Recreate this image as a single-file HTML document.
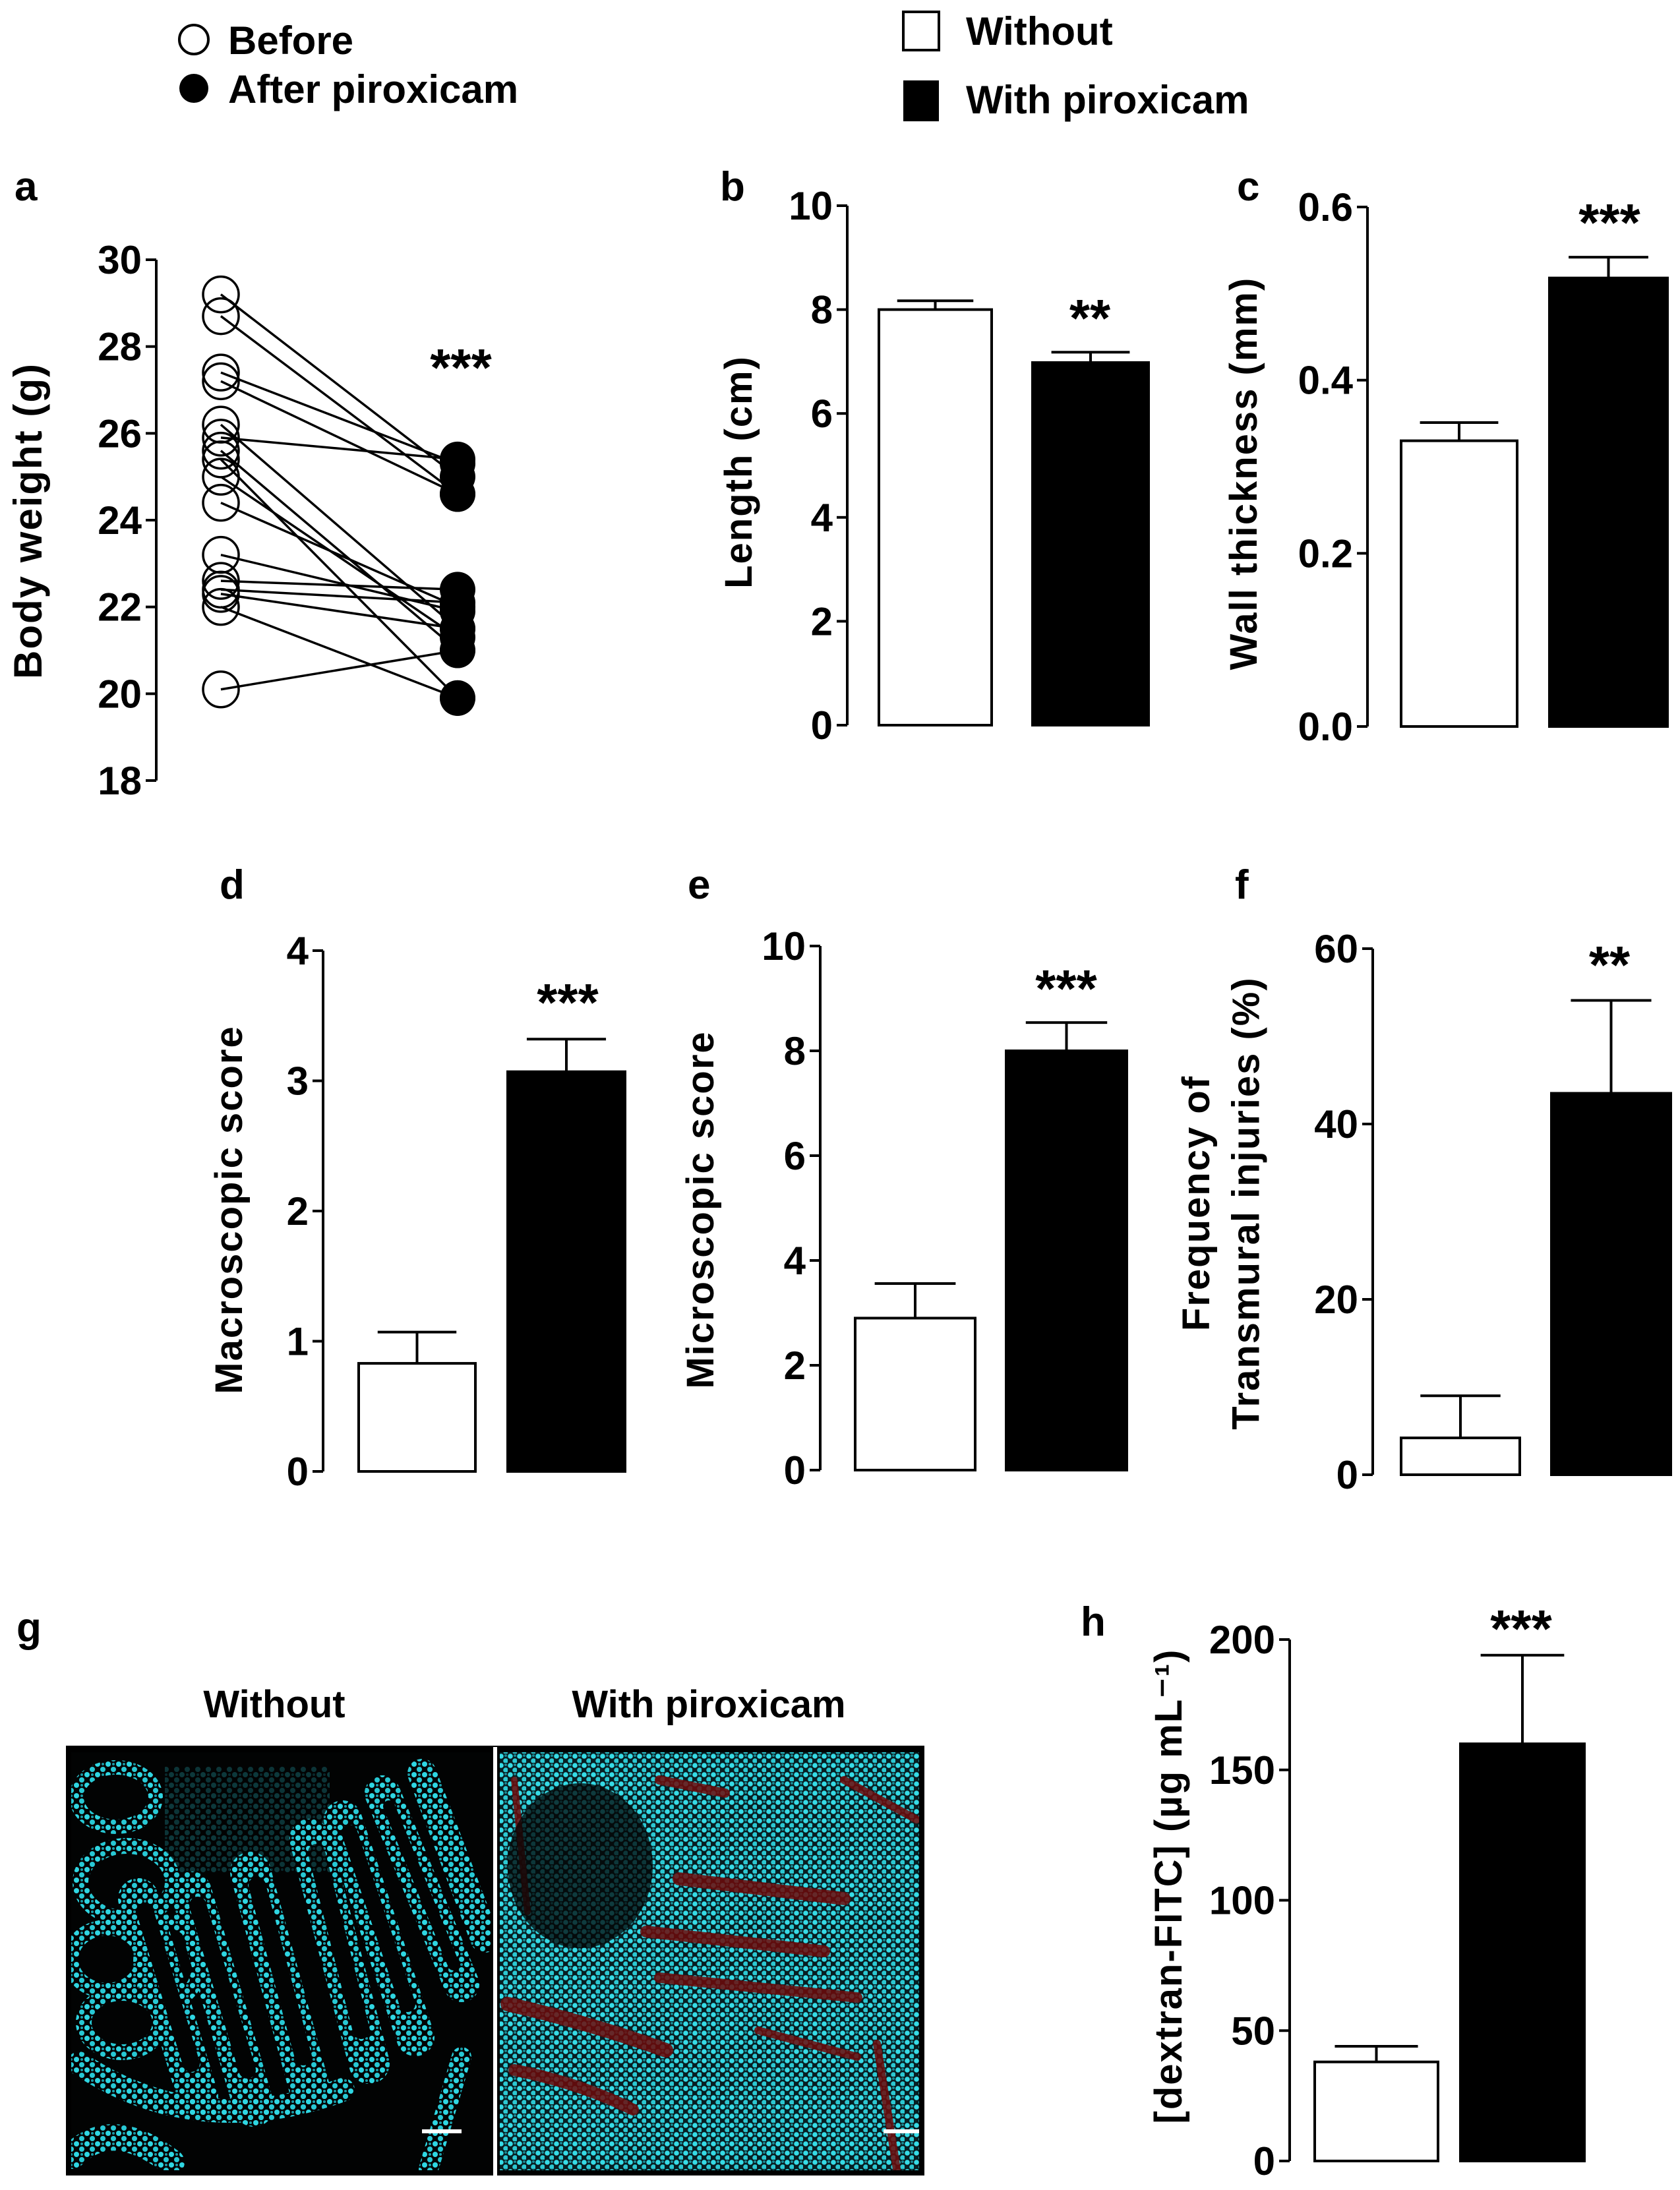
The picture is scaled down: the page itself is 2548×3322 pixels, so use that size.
<!DOCTYPE html>
<html><head><meta charset="utf-8"><style>
html,body{margin:0;padding:0;background:#fff;}
svg{display:block;font-family:"Liberation Sans",Arial,sans-serif;}
</style></head><body>
<svg id="fig" width="2548" height="3322" viewBox="0 0 2548 3322" xmlns="http://www.w3.org/2000/svg">
<defs>
<pattern id="dotsA" width="16" height="16" patternUnits="userSpaceOnUse">
<circle cx="4" cy="4" r="4" fill="#2fd6e2"/><circle cx="12" cy="12" r="4" fill="#28c8d4"/><circle cx="12" cy="4" r="2" fill="#1a9aa6"/>
</pattern>
<pattern id="dotsB" width="14" height="14" patternUnits="userSpaceOnUse">
<rect width="14" height="14" fill="#081e22"/>
<circle cx="4" cy="4" r="3.8" fill="#36dbe6"/><circle cx="11" cy="11" r="3.8" fill="#2cc8d2"/><circle cx="11" cy="3" r="2" fill="#1a8a94"/>
</pattern>
<clipPath id="clipL"><rect x="108" y="2658" width="636" height="634"/></clipPath>
<clipPath id="clipR"><rect x="758" y="2658" width="636" height="634"/></clipPath>
</defs>
<g id="legends" font-weight="bold" font-size="60">
<circle cx="294" cy="60" r="22" fill="#fff" stroke="#000" stroke-width="4"/>
<text x="346" y="82">Before</text>
<circle cx="294" cy="134" r="22" fill="#000"/>
<text x="346" y="156">After piroxicam</text>
<rect x="1370" y="18" width="54" height="58" fill="#fff" stroke="#000" stroke-width="4"/>
<text x="1465" y="68">Without</text>
<rect x="1370" y="122" width="54" height="62" fill="#000"/>
<text x="1465" y="172">With piroxicam</text>
</g>
<g id="charts"></g>
<g id="micro">
<text x="416" y="2605" font-size="58" font-weight="bold" text-anchor="middle">Without</text>
<text x="1075" y="2605" font-size="58" font-weight="bold" text-anchor="middle">With piroxicam</text>
<rect x="100" y="2648" width="1302" height="652" fill="#000"/>
<g clip-path="url(#clipL)">
<rect x="108" y="2658" width="636" height="634" fill="#020303"/>
<g fill="none" stroke="url(#dotsA)" stroke-linecap="round">
<ellipse cx="176" cy="2726" rx="60" ry="45" stroke-width="22"/>
<ellipse cx="192" cy="2855" rx="70" ry="55" stroke-width="24"/>
<ellipse cx="162" cy="2972" rx="55" ry="48" stroke-width="24"/>
<ellipse cx="185" cy="3068" rx="58" ry="45" stroke-width="24"/>
<ellipse cx="258" cy="2975" rx="45" ry="60" stroke-width="22"/>
<path d="M300 3180 L210 2880" stroke-width="62"/>
<path d="M385 3195 L290 2870" stroke-width="62"/>
<path d="M470 3170 L380 2840" stroke-width="62"/>
<path d="M560 3130 L470 2790" stroke-width="62"/>
<path d="M630 3090 L520 2760" stroke-width="58"/>
<path d="M700 3010 L580 2720" stroke-width="54"/>
<path d="M735 2940 L640 2690" stroke-width="44"/>
<path d="M120 3130 Q300 3250 520 3170" stroke-width="36"/>
<path d="M700 3120 L650 3290" stroke-width="30"/>
<path d="M110 3270 Q170 3210 260 3280" stroke-width="40"/>
</g>
<g stroke="#020303" stroke-linecap="round" fill="none">
<path d="M290 3130 L220 2900" stroke-width="26"/>
<path d="M375 3140 L300 2890" stroke-width="26"/>
<path d="M460 3120 L390 2860" stroke-width="26"/>
<path d="M548 3080 L480 2810" stroke-width="26"/>
<path d="M618 3040 L530 2780" stroke-width="24"/>
<path d="M688 2980 L590 2740" stroke-width="18"/>
</g>
<rect x="250" y="2680" width="250" height="160" fill="url(#dotsA)" opacity="0.25"/>
<rect x="640" y="3230" width="60" height="6" fill="#fff"/>
</g>
<g clip-path="url(#clipR)">
<rect x="758" y="2658" width="636" height="634" fill="url(#dotsB)"/>
<g stroke="#6e0a0a" stroke-linecap="round" fill="none" opacity="0.85">
<path d="M1030 2850 L1280 2880" stroke-width="20"/>
<path d="M980 2930 L1250 2960" stroke-width="18"/>
<path d="M1000 3000 L1300 3030" stroke-width="16"/>
<path d="M770 3040 Q900 3070 1010 3110" stroke-width="22"/>
<path d="M780 3140 Q880 3160 960 3200" stroke-width="18"/>
<path d="M1100 2720 L1000 2700" stroke-width="14"/>
<path d="M780 2700 L800 2900" stroke-width="10"/>
<path d="M1330 3100 L1360 3290" stroke-width="12"/>
<path d="M1150 3080 L1300 3120" stroke-width="12"/>
<path d="M1280 2700 L1390 2760" stroke-width="12"/>
</g>
<ellipse cx="880" cy="2830" rx="110" ry="125" fill="#030606" opacity="0.75"/>
<rect x="1340" y="3230" width="55" height="6" fill="#fff"/>
</g>
<rect x="748" y="2650" width="6" height="650" fill="#fff"/>
<text x="25" y="2490" font-size="62" font-weight="bold">g</text>
</g>
</svg>
<script>
// Panel a data (body weight paired)
const aTickLabels = ["18","20","22","24","26","28","30"];
const aTickValues = [18,20,22,24,26,28,30];
const aBefore = [29.2,28.7,27.4,27.2,26.2,25.9,25.6,25.4,25.0,24.4,23.2,22.6,22.4,22.3,22.0,20.1];
const aAfter  = [25.0,24.6,25.3,24.6,21.5,25.4,21.0,19.9,21.3,22.0,21.9,22.4,22.1,21.5,19.9,21.0];
// Panel b
const bValues = [8.0,6.98]; const bErrors = [8.17,7.18];
const bTickValues = [0,2,4,6,8,10]; const bTickLabels = ["0","2","4","6","8","10"];
// Panel c
const cValues = [0.33,0.518]; const cErrors = [0.351,0.542];
const cTickValues = [0,0.2,0.4,0.6]; const cTickLabels = ["0.0","0.2","0.4","0.6"];
// Panel d
const dValues = [0.83,3.07]; const dErrors = [1.07,3.32];
const dTickValues = [0,1,2,3,4]; const dTickLabels = ["0","1","2","3","4"];
// Panel e
const eValues = [2.9,8.0]; const eErrors = [3.56,8.54];
const eTickValues = [0,2,4,6,8,10]; const eTickLabels = ["0","2","4","6","8","10"];
// Panel f
const fValues = [4.2,43.5]; const fErrors = [9.0,54.1];
const fTickValues = [0,20,40,60]; const fTickLabels = ["0","20","40","60"];
// Panel h
const hValues = [38,160]; const hErrors = [44,194];
const hTickValues = [0,50,100,150,200]; const hTickLabels = ["0","50","100","150","200"];

const NS = "http://www.w3.org/2000/svg";
const root = document.getElementById("charts");
function mk(tag, attrs, parent) {
  const e = document.createElementNS(NS, tag);
  for (const k in attrs) e.setAttribute(k, attrs[k]);
  (parent || root).appendChild(e);
  return e;
}
function linScale(d0, d1, r0, r1) { return v => r0 + (v - d0) * (r1 - r0) / (d1 - d0); }

function axis(g, ax, y, tickValues, tickLabels, dMin, dMax) {
  const l = mk("line", {x1: ax, x2: ax, y1: y(dMin), y2: y(dMax), stroke: "#000", "stroke-width": 4}, g);
  
  
  tickValues.forEach((v, i) => {
    const t = mk("line", {x1: ax - 16, x2: ax, y1: y(v), y2: y(v), stroke: "#000", "stroke-width": 4}, g);
    
    
    const tx = mk("text", {x: ax - 22, y: y(v) + 21, "font-size": 60, "font-weight": "bold", "text-anchor": "end"}, g);
    tx.textContent = tickLabels[i];
    
    
  });
}
function ylabel(g, lines, cx, cy, size) {
  const t = mk("text", {transform: `translate(${cx},${cy}) rotate(-90)`, "font-size": size, "font-weight": "bold", "text-anchor": "middle", "letter-spacing": 2}, g);
  
  
  lines.forEach((s, i) => {
    const ts = mk("tspan", {x: 0, dy: i === 0 ? 0 : size * 1.3}, t);
    ts.textContent = s;
  });
  return t;
}
function plainText(g, x, y, s, size, name, anchor) {
  const t = mk("text", {x: x, y: y, "font-size": size, "font-weight": "bold", "text-anchor": anchor || "start"}, g);
  t.textContent = s;
  
  
  return t;
}

function barPanel(o) {
  const g = mk("g", {});
  
  
  const y = linScale(o.dMin, o.dMax, o.y0, o.y1);
  axis(g, o.ax, y, o.tickValues, o.tickLabels, o.dMin, o.dMax);
  o.values.forEach((v, i) => {
    const [x0, x1] = o.barX[i];
    const black = i === 1;
    const top = y(v), base = y(o.dMin), err = y(o.errors[i]);
    const cx = (x0 + x1) / 2, cw = (x1 - x0) * 0.33;
    const el = mk("line", {x1: cx, x2: cx, y1: top, y2: err, stroke: "#000", "stroke-width": 4}, g);
    
    
    const ec = mk("line", {x1: cx - cw, x2: cx + cw, y1: err, y2: err, stroke: "#000", "stroke-width": 4}, g);
    
    
    const r = mk("rect", {x: x0 + 2, y: top, width: x1 - x0 - 4, height: base - top, fill: black ? "#000" : "#fff", stroke: "#000", "stroke-width": 4}, g);
    
    
  });
  plainText(g, o.starX, o.starY, o.stars, 80, 'significance-stars', 'middle');
  plainText(g, o.letterX, o.letterY, o.letter, 62, 'panel-label-' + o.letter);
  ylabel(g, o.ylabel, o.ylx, o.yly, o.ylsize || 58);
}

// Panel a
(function () {
  const g = mk("g", {});
  
  
  const y = linScale(18, 30, 1184, 394);
  axis(g, 237, y, aTickValues, aTickLabels, 18, 30);
  const xb = 335, xa = 694;
  aBefore.forEach((v, i) => {
    const l = mk("line", {x1: xb, y1: y(v), x2: xa, y2: y(aAfter[i]), stroke: "#000", "stroke-width": 3.5}, g);
    
    
  });
  aBefore.forEach(v => {
    const c = mk("circle", {cx: xb, cy: y(v), r: 27, fill: "none", stroke: "#000", "stroke-width": 3.5}, g);
    
    
  });
  aAfter.forEach(v => {
    const c = mk("circle", {cx: xa, cy: y(v), r: 27, fill: "#000"}, g);
    
    
  });
  plainText(g, 699, 585, "***", 80, 'significance-stars', 'middle');
  plainText(g, 22, 304, "a", 62, 'panel-label-a');
  ylabel(g, ["Body weight (g)"], 63, 790, 60);
})();

barPanel({name: 'panel-b-length', ax: 1285, y0: 1100, y1: 312, dMin: 0, dMax: 10, tickValues: bTickValues, tickLabels: bTickLabels,
  values: bValues, errors: bErrors, barX: [[1331, 1506], [1564, 1744]], stars: "**", starX: 1653, starY: 510,
  letter: "b", letterX: 1092, letterY: 304, ylabel: ["Length (cm)"], ylx: 1140, yly: 716});
barPanel({name: 'panel-c-wall-thickness', ax: 2074, y0: 1102, y1: 314, dMin: 0, dMax: 0.6, tickValues: cTickValues, tickLabels: cTickLabels,
  values: cValues, errors: cErrors, barX: [[2123, 2303], [2348, 2531]], stars: "***", starX: 2441, starY: 365,
  letter: "c", letterX: 1876, letterY: 304, ylabel: ["Wall thickness (mm)"], ylx: 1906, yly: 718});
barPanel({name: 'panel-d-macroscopic-score', ax: 490, y0: 2232, y1: 1442, dMin: 0, dMax: 4, tickValues: dTickValues, tickLabels: dTickLabels,
  values: dValues, errors: dErrors, barX: [[542, 723], [768, 950]], stars: "***", starX: 861, starY: 1548,
  letter: "d", letterX: 333, letterY: 1363, ylabel: ["Macroscopic score"], ylx: 367, yly: 1835});
barPanel({name: 'panel-e-microscopic-score', ax: 1244, y0: 2230, y1: 1435, dMin: 0, dMax: 10, tickValues: eTickValues, tickLabels: eTickLabels,
  values: eValues, errors: eErrors, barX: [[1295, 1481], [1524, 1711]], stars: "***", starX: 1617, starY: 1527,
  letter: "e", letterX: 1043, letterY: 1363, ylabel: ["Microscopic score"], ylx: 1082, yly: 1835});
barPanel({name: 'panel-f-transmural-injuries', ax: 2082, y0: 2237, y1: 1439, dMin: 0, dMax: 60, tickValues: fTickValues, tickLabels: fTickLabels,
  values: fValues, errors: fErrors, barX: [[2123, 2307], [2351, 2536]], stars: "**", starX: 2441, starY: 1491,
  letter: "f", letterX: 1873, letterY: 1363, ylabel: ["Frequency of", "Transmural injuries (%)"], ylx: 1834, yly: 1825});
barPanel({name: 'panel-h-dextran-fitc', ax: 1956, y0: 3278, y1: 2487, dMin: 0, dMax: 200, tickValues: hTickValues, tickLabels: hTickLabels,
  values: hValues, errors: hErrors, barX: [[1992, 2183], [2213, 2405]], stars: "***", starX: 2307, starY: 2498,
  letter: "h", letterX: 1639, letterY: 2481, ylabel: ["[dextran-FITC] (\u00b5g mL\u207b\u00b9)"], ylx: 1792, yly: 2861});
</script>
</body></html>
